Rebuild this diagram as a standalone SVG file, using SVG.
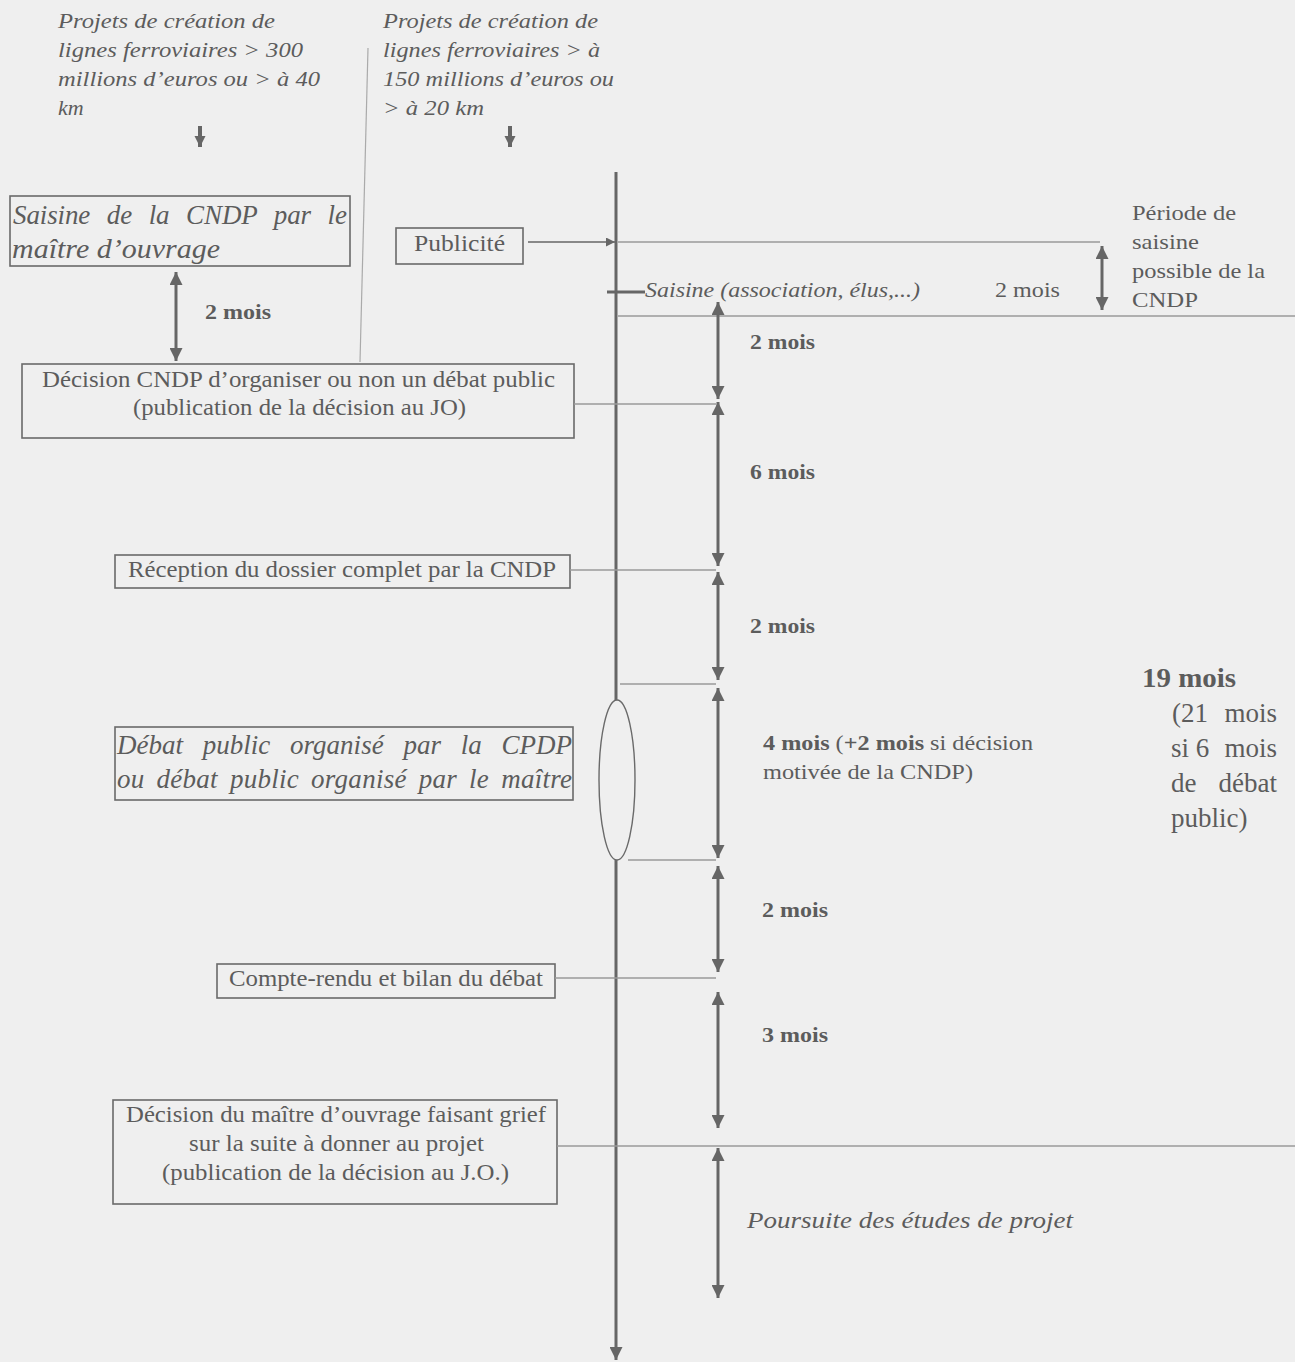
<svg xmlns="http://www.w3.org/2000/svg" width="1295" height="1362" viewBox="0 0 1295 1362">
<style>
.t{font-family:"Liberation Serif","Times New Roman",serif;fill:#5c5c5c}
.i{font-style:italic}
.b{font-weight:bold}
.box{fill:none;stroke:#6a6a6a;stroke-width:1.6}
.thin{stroke:#9a9a9a;stroke-width:1.5;fill:none}
.dbl{stroke:#666;stroke-width:3;fill:none;marker-start:url(#ah);marker-end:url(#ah)}
</style>
<defs>
<marker id="ah" viewBox="0 0 10 10" refX="10" refY="5" markerWidth="13" markerHeight="13" markerUnits="userSpaceOnUse" orient="auto-start-reverse"><path d="M0,0 L10,5 L0,10 z" fill="#666"/></marker>
<marker id="sh" viewBox="0 0 10 10" refX="10" refY="5" markerWidth="9" markerHeight="9" markerUnits="userSpaceOnUse" orient="auto"><path d="M0,0 L10,5 L0,10 z" fill="#666"/></marker>
<marker id="bh" viewBox="0 0 10 10" refX="10" refY="5" markerWidth="11" markerHeight="13" markerUnits="userSpaceOnUse" orient="auto"><path d="M0,0 L10,5 L0,10 z" fill="#666"/></marker>
</defs>
<rect width="1295" height="1362" fill="#efefef"/>

<g id="intro-left">
<text class="t i" font-size="22"><tspan x="58" y="28" textLength="217" lengthAdjust="spacingAndGlyphs">Projets de création de</tspan><tspan x="58" y="57" textLength="245" lengthAdjust="spacingAndGlyphs">lignes ferroviaires &gt; 300</tspan><tspan x="58" y="86" textLength="262" lengthAdjust="spacingAndGlyphs">millions d’euros ou &gt; à 40</tspan><tspan x="58" y="115">km</tspan></text>
</g>
<g id="intro-right">
<text class="t i" font-size="22"><tspan x="383" y="28" textLength="215" lengthAdjust="spacingAndGlyphs">Projets de création de</tspan><tspan x="383" y="57" textLength="217" lengthAdjust="spacingAndGlyphs">lignes ferroviaires &gt; à</tspan><tspan x="383" y="86" textLength="231" lengthAdjust="spacingAndGlyphs">150 millions d’euros ou</tspan><tspan x="383" y="115" textLength="101" lengthAdjust="spacingAndGlyphs">&gt; à 20 km</tspan></text>
</g>

<g id="saisine-mo">
<rect class="box" x="10" y="196" width="340" height="70"/>
<text class="t i" font-size="27" x="13" y="224" word-spacing="10" textLength="334" lengthAdjust="spacing">Saisine de la CNDP par le</text>
<text class="t i" font-size="27" x="12" y="258" textLength="208" lengthAdjust="spacingAndGlyphs">maître d’ouvrage</text>
</g>
<g id="publicite">
<rect class="box" x="396" y="228" width="127" height="36"/>
<text class="t" font-size="23" x="414" y="251" textLength="91" lengthAdjust="spacingAndGlyphs">Publicité</text>
</g>
<g id="decision-cndp">
<rect class="box" x="22" y="364" width="552" height="74"/>
<text class="t" font-size="23"><tspan x="42" y="387" textLength="513" lengthAdjust="spacingAndGlyphs">Décision CNDP d’organiser ou non un débat public</tspan><tspan x="133" y="415" textLength="333" lengthAdjust="spacingAndGlyphs">(publication de la décision au JO)</tspan></text>
</g>
<g id="reception">
<rect class="box" x="115" y="555" width="455" height="33"/>
<text class="t" font-size="23" x="128" y="577" textLength="428" lengthAdjust="spacingAndGlyphs">Réception du dossier complet par la CNDP</text>
</g>
<g id="debat">
<rect class="box" x="115" y="727" width="458" height="73"/>
<text class="t i" font-size="27" x="117" y="754" word-spacing="13" textLength="455" lengthAdjust="spacing">Débat public organisé par la CPDP</text>
<text class="t i" font-size="27" x="117" y="788" word-spacing="5" textLength="455" lengthAdjust="spacing">ou débat public organisé par le maître</text>
</g>
<g id="compte-rendu">
<rect class="box" x="217" y="964" width="338" height="34"/>
<text class="t" font-size="23" x="229" y="986" textLength="314" lengthAdjust="spacingAndGlyphs">Compte-rendu et bilan du débat</text>
</g>
<g id="decision-mo">
<rect class="box" x="113" y="1100" width="444" height="104"/>
<text class="t" font-size="23"><tspan x="126" y="1122" textLength="420" lengthAdjust="spacingAndGlyphs">Décision du maître d’ouvrage faisant grief</tspan><tspan x="189" y="1151" textLength="295" lengthAdjust="spacingAndGlyphs">sur la suite à donner au projet</tspan><tspan x="162" y="1180" textLength="347" lengthAdjust="spacingAndGlyphs">(publication de la décision au J.O.)</tspan></text>
</g>

<g id="connectors">
<line x1="368" y1="48" x2="360" y2="362" stroke="#aaa" stroke-width="1.2"/>
<line x1="200" y1="126" x2="200" y2="147" stroke="#666" stroke-width="4" marker-end="url(#bh)"/>
<line x1="510" y1="126" x2="510" y2="147" stroke="#666" stroke-width="4" marker-end="url(#bh)"/>
<line x1="616" y1="172" x2="616" y2="1360" stroke="#666" stroke-width="3" marker-end="url(#ah)"/>
<line x1="528" y1="242" x2="615" y2="242" stroke="#666" stroke-width="1.6" marker-end="url(#sh)"/>
<line class="thin" x1="618" y1="242" x2="1100" y2="242"/>
<line x1="607" y1="292" x2="645" y2="292" stroke="#666" stroke-width="3"/>
<line class="thin" x1="618" y1="316" x2="1295" y2="316"/>
<line class="dbl" x1="1102" y1="246" x2="1102" y2="310"/>
<line class="dbl" x1="176" y1="272" x2="176" y2="361"/>
<line class="thin" x1="574" y1="404" x2="716" y2="404"/>
<line class="thin" x1="570" y1="570" x2="716" y2="570"/>
<line class="thin" x1="620" y1="684" x2="716" y2="684"/>
<line class="thin" x1="628" y1="860" x2="716" y2="860"/>
<line class="thin" x1="555" y1="978" x2="716" y2="978"/>
<line class="thin" x1="557" y1="1146" x2="1295" y2="1146"/>
<ellipse cx="617" cy="780" rx="18" ry="80" fill="#efefef" stroke="#6a6a6a" stroke-width="1.4"/>
<line class="dbl" x1="718" y1="302" x2="718" y2="399"/>
<line class="dbl" x1="718" y1="402" x2="718" y2="566"/>
<line class="dbl" x1="718" y1="572" x2="718" y2="680"/>
<line class="dbl" x1="718" y1="688" x2="718" y2="858"/>
<line class="dbl" x1="718" y1="866" x2="718" y2="972"/>
<line class="dbl" x1="718" y1="992" x2="718" y2="1128"/>
<line class="dbl" x1="718" y1="1148" x2="718" y2="1298"/>
</g>

<g id="labels">
<text class="t i" x="645" y="297" font-size="22" textLength="275" lengthAdjust="spacingAndGlyphs">Saisine (association, élus,...)</text>
<text class="t" x="995" y="297" font-size="22" textLength="65" lengthAdjust="spacingAndGlyphs">2 mois</text>
<text class="t" font-size="22"><tspan x="1132" y="220" textLength="104" lengthAdjust="spacingAndGlyphs">Période de</tspan><tspan x="1132" y="249" textLength="67" lengthAdjust="spacingAndGlyphs">saisine</tspan><tspan x="1132" y="278" textLength="133" lengthAdjust="spacingAndGlyphs">possible de la</tspan><tspan x="1132" y="307" textLength="66" lengthAdjust="spacingAndGlyphs">CNDP</tspan></text>
<text class="t b" x="205" y="319" font-size="22" textLength="66" lengthAdjust="spacingAndGlyphs">2 mois</text>
<text class="t b" x="750" y="349" font-size="22" textLength="65" lengthAdjust="spacingAndGlyphs">2 mois</text>
<text class="t b" x="750" y="479" font-size="22" textLength="65" lengthAdjust="spacingAndGlyphs">6 mois</text>
<text class="t b" x="750" y="633" font-size="22" textLength="65" lengthAdjust="spacingAndGlyphs">2 mois</text>
<text class="t" font-size="21"><tspan x="763" y="750" textLength="270" lengthAdjust="spacingAndGlyphs"><tspan class="b">4 mois</tspan> (<tspan class="b">+2 mois</tspan> si décision</tspan><tspan x="763" y="779" textLength="210" lengthAdjust="spacingAndGlyphs">motivée de la CNDP)</tspan></text>
<text class="t b" x="762" y="917" font-size="22" textLength="66" lengthAdjust="spacingAndGlyphs">2 mois</text>
<text class="t b" x="762" y="1042" font-size="22" textLength="66" lengthAdjust="spacingAndGlyphs">3 mois</text>
<text class="t i" x="747" y="1228" font-size="23" textLength="326" lengthAdjust="spacingAndGlyphs">Poursuite des études de projet</text>
<text class="t b" x="1142" y="687" font-size="28" textLength="94" lengthAdjust="spacingAndGlyphs">19 mois</text>
<text class="t" font-size="27" x="1172" y="722">(21</text>
<text class="t" font-size="27" x="1277" y="722" text-anchor="end">mois</text>
<text class="t" font-size="27" x="1171" y="757">si 6</text>
<text class="t" font-size="27" x="1277" y="757" text-anchor="end">mois</text>
<text class="t" font-size="27" x="1171" y="792">de</text>
<text class="t" font-size="27" x="1277" y="792" text-anchor="end">débat</text>
<text class="t" font-size="27" x="1171" y="827">public)</text>
</g>
</svg>
